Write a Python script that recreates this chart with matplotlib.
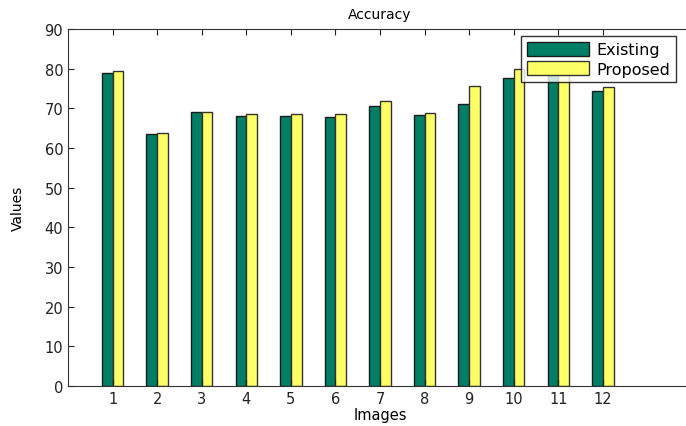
import matplotlib
matplotlib.use("Agg")
import matplotlib.pyplot as plt
import numpy as np

images = [1, 2, 3, 4, 5, 6, 7, 8, 9, 10, 11, 12]
existing = [78.9, 63.6, 69.1, 68.1, 68.1, 67.8, 70.7, 68.3, 71.0, 77.6, 78.3, 74.4]
proposed = [79.4, 63.9, 69.1, 68.6, 68.6, 68.6, 71.8, 68.8, 75.7, 79.9, 79.5, 75.5]
yticks = [0, 10, 20, 30, 40, 50, 60, 70, 80, 90]

plt.rcParams['font.family'] = ['DejaVu Sans']
fig = plt.figure(figsize=(6.86, 4.27), dpi=100)
ax = fig.add_axes([68/686, 1-387/427, (692-68)/686, (387-30)/427])

x = np.array(images)
w = 0.24
ax.bar(x - w/2, existing, width=w, color='#007F66', edgecolor='#1a1a1a', linewidth=1.0, label='Existing')
ax.bar(x + w/2, proposed, width=w, color='#FFFF66', edgecolor='#333333', linewidth=1.0, label='Proposed')

ax.set_xlim(0, 14)
ax.set_ylim(0, 90)
ax.set_xticks(images)
ax.set_yticks(yticks)
ax.tick_params(direction='in', top=True, right=False, length=4, labelsize=10.5, colors='#222222')
for s in ['left', 'bottom', 'top']:
    ax.spines[s].set_color('#333333')
ax.spines['right'].set_visible(False)

ax.set_title('Accuracy', fontsize=10, pad=8)
ax.set_xlabel('Images', fontsize=10.5, labelpad=1)
ax.set_ylabel('Values', fontsize=10, labelpad=14)

leg = ax.legend(loc='upper left', bbox_to_anchor=(521/686, 1-37/427), bbox_transform=fig.transFigure,
                fontsize=11.5, frameon=True, fancybox=False, edgecolor='black',
                handlelength=3.9, handleheight=1.0, borderpad=0.35, labelspacing=0.25, handletextpad=0.45,
                borderaxespad=0)
leg.get_frame().set_linewidth(1.0)

fig.savefig('out.png', dpi=100)
